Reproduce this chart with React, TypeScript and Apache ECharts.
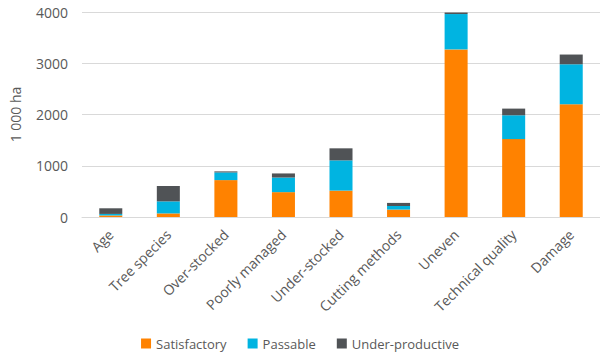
import React, { useEffect, useRef } from "react";
import * as echarts from "echarts";

const categories = [
  "Age",
  "Tree species",
  "Over-stocked",
  "Poorly managed",
  "Under-stocked",
  "Cutting methods",
  "Uneven",
  "Technical quality",
  "Damage",
];
const satisfactory = [30, 70, 720, 485, 515, 145, 3270, 1520, 2200];
const passable = [30, 235, 150, 285, 590, 70, 690, 465, 780];
const underProductive = [110, 300, 20, 80, 235, 60, 30, 130, 190];
const yTicks = { min: 0, max: 4000, interval: 1000 };

const FONT = "Open Sans";
const TEXT = "#595959";

export default function App() {
  const ref = useRef<HTMLDivElement>(null);
  useEffect(() => {
    if (!ref.current) return;
    const chart = echarts.init(ref.current, null, { renderer: "svg" });
    const mk = (name: string, data: number[], color: string) => ({
      name,
      type: "bar",
      stack: "total",
      data,
      barWidth: "40%",
      itemStyle: { color },
    });
    chart.setOption({
      animation: false,
      textStyle: { fontFamily: FONT },
      grid: { left: 72, right: 0, top: 12, bottom: 138 },
      legend: {
        bottom: 0,
        left: "center",
        itemWidth: 10,
        itemHeight: 10,
        itemGap: 21,
        icon: "rect",
        textStyle: { color: TEXT, fontSize: 13, fontFamily: FONT },
        data: ["Satisfactory", "Passable", "Under-productive"],
      },
      xAxis: {
        type: "category",
        data: categories,
        axisLine: { lineStyle: { color: "#d9d9d9" } },
        axisTick: { show: false },
        axisLabel: {
          rotate: 45,
          interval: 0,
          color: TEXT,
          fontSize: 14,
          fontFamily: FONT,
          margin: 15,
        },
      },
      yAxis: {
        type: "value",
        min: yTicks.min,
        max: yTicks.max,
        interval: yTicks.interval,
        name: "1 000 ha",
        nameLocation: "middle",
        nameGap: 60,
        nameTextStyle: { color: TEXT, fontSize: 14, fontFamily: FONT },
        axisLine: { show: false },
        axisTick: { show: false },
        axisLabel: {
          color: TEXT,
          fontSize: 14,
          fontFamily: FONT,
          margin: 14,
          formatter: (v: number) => String(v),
        },
        splitLine: { lineStyle: { color: "#d9d9d9" } },
      },
      series: [
        mk("Satisfactory", satisfactory, "#FF8200"),
        mk("Passable", passable, "#00B4E1"),
        mk("Under-productive", underProductive, "#505356"),
      ],
    });
    return () => chart.dispose();
  }, []);
  return <div ref={ref} style={{ width: 600, height: 355, position: "absolute", left: 0, top: 0 }} />;
}
